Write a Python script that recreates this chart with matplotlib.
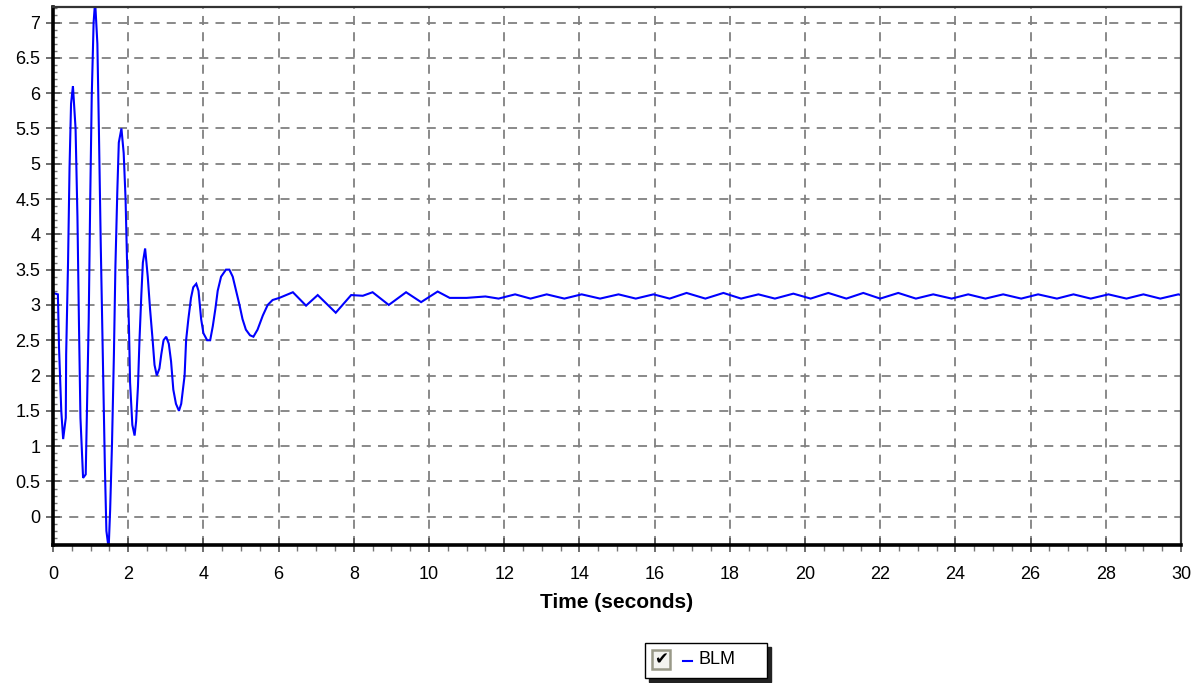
import matplotlib.pyplot as plt
from matplotlib.patches import Rectangle
from matplotlib.lines import Line2D
from matplotlib.ticker import MultipleLocator

plt.rcParams['font.family'] = ['Liberation Sans', 'DejaVu Sans']

# BLM response (time in seconds, value)
t_blm = [0.00, 0.13, 0.16, 0.22, 0.27, 0.34, 0.35, 0.40, 0.44, 0.48, 0.53, 0.60,
         0.65, 0.69, 0.73, 0.80, 0.87, 0.90, 0.95, 0.99, 1.03, 1.08, 1.12, 1.18,
         1.22, 1.27, 1.33, 1.38, 1.42, 1.48, 1.52, 1.57, 1.62, 1.66, 1.71, 1.75,
         1.82, 1.88, 1.93, 1.97, 2.02, 2.05, 2.11, 2.17, 2.21, 2.26, 2.30, 2.35,
         2.39, 2.45, 2.52, 2.58, 2.65, 2.70, 2.76, 2.83, 2.88, 2.94, 3.01, 3.08,
         3.14, 3.20, 3.27, 3.35, 3.41, 3.50, 3.54, 3.60, 3.67, 3.73, 3.81, 3.87,
         3.94, 4.00, 4.10, 4.18, 4.25, 4.32, 4.38, 4.47, 4.60, 4.69, 4.78, 4.87,
         4.96, 5.04, 5.13, 5.24, 5.33, 5.44, 5.58, 5.71, 5.84, 6.02,
         6.38, 6.73, 7.04, 7.52, 7.93, 8.24, 8.50, 8.93, 9.39, 9.79, 10.23, 10.55,
         11.00, 11.50, 11.85, 12.29, 12.70, 13.13, 13.60, 14.06, 14.55, 15.04,
         15.50, 15.97, 16.40, 16.85, 17.35, 17.83, 18.30, 18.76, 19.20, 19.69,
         20.15, 20.62, 21.10, 21.55, 22.00, 22.48, 22.95, 23.41, 23.90, 24.34,
         24.80, 25.27, 25.75, 26.20, 26.70, 27.14, 27.60, 28.07, 28.55, 29.00,
         29.45, 29.93, 30.00]
v_blm = [3.17, 3.15, 2.40, 1.50, 1.10, 1.40, 2.30, 3.60, 4.95, 5.85, 6.10, 5.50,
         4.25, 2.75, 1.40, 0.55, 0.60, 1.40, 2.80, 4.50, 5.95, 7.00, 7.30, 6.70,
         5.50, 3.85, 2.15, 0.70, -0.20, -0.45, 0.10, 1.05, 2.30, 3.55, 4.60, 5.30,
         5.50, 5.15, 4.50, 3.60, 2.70, 1.90, 1.30, 1.15, 1.35, 1.85, 2.50, 3.15,
         3.60, 3.80, 3.40, 2.95, 2.50, 2.15, 2.00, 2.10, 2.30, 2.50, 2.55, 2.45,
         2.20, 1.80, 1.60, 1.50, 1.60, 2.00, 2.50, 2.80, 3.10, 3.25, 3.30, 3.20,
         2.80, 2.60, 2.50, 2.50, 2.70, 2.95, 3.20, 3.40, 3.50, 3.50, 3.40, 3.20,
         3.00, 2.80, 2.65, 2.57, 2.55, 2.65, 2.85, 3.00, 3.07, 3.10,
         3.18, 2.99, 3.14, 2.89, 3.14, 3.13, 3.18, 3.00, 3.18, 3.04, 3.19, 3.10,
         3.10, 3.12, 3.09, 3.15, 3.09, 3.15, 3.09, 3.15, 3.09, 3.15,
         3.09, 3.15, 3.09, 3.17, 3.09, 3.17, 3.09, 3.15, 3.09, 3.16,
         3.09, 3.17, 3.09, 3.17, 3.09, 3.17, 3.09, 3.15, 3.09, 3.15,
         3.09, 3.15, 3.09, 3.15, 3.09, 3.15, 3.09, 3.15, 3.09, 3.15,
         3.09, 3.15, 3.14]

W, H = 1198, 683
fig = plt.figure(figsize=(W / 100, H / 100), dpi=100)
ax = fig.add_axes([53 / W, 1 - 545 / H, (1181 - 53) / W, (545 - 7) / H])

ax.plot(t_blm, v_blm, color='#0000ff', lw=1.5, solid_joinstyle='miter')

ax.set_xlim(0, 30)
ax.set_ylim(-0.4, 7.22)
ax.xaxis.set_major_locator(MultipleLocator(2))
ax.xaxis.set_minor_locator(MultipleLocator(0.5))
ax.yaxis.set_minor_locator(MultipleLocator(0.1))
ax.set_yticks([0, 0.5, 1, 1.5, 2, 2.5, 3, 3.5, 4, 4.5, 5, 5.5, 6, 6.5, 7])
ax.set_yticklabels(['0', '0.5', '1', '1.5', '2', '2.5', '3', '3.5', '4', '4.5',
                    '5', '5.5', '6', '6.5', '7'])

ax.grid(True, which='major', color='#808080', linestyle=(0, (5, 4)), lw=1.3)
ax.tick_params(which='major', direction='inout', length=10, width=1.2,
               colors='#555555', labelcolor='black', labelsize=13)
ax.tick_params(axis='x', which='major', pad=10)
ax.tick_params(axis='y', which='major', pad=4)
ax.tick_params(which='minor', direction='out', length=4, width=1,
               colors='#777777')
ax.tick_params(axis='y', which='minor', direction='in', length=3)

for side in ['left', 'bottom']:
    ax.spines[side].set_linewidth(2.6)
    ax.spines[side].set_color('black')
for side in ['top', 'right']:
    ax.spines[side].set_linewidth(1.6)
    ax.spines[side].set_color('#333333')

ax.set_xlabel('Time (seconds)', fontsize=15, fontweight='bold', labelpad=7)


def fx(x):
    return x / W


def fy(y):
    return 1 - y / H


# legend box with shadow, checkbox and entry
fig.add_artist(Rectangle((fx(649), fy(682)), fx(122), 35 / H, color='#222222',
                         transform=fig.transFigure))
fig.add_artist(Rectangle((fx(645), fy(678)), fx(122), 35 / H, facecolor='white',
                         edgecolor='black', lw=1, transform=fig.transFigure))
fig.add_artist(Rectangle((fx(652), fy(669)), fx(18), 19 / H, facecolor='#f4f4f0',
                         edgecolor='#999988', lw=1.8, transform=fig.transFigure))
fig.text(fx(661), fy(659.5), '\u2714', fontsize=12, ha='center', va='center',
         family='DejaVu Sans')
fig.add_artist(Line2D([fx(683), fx(692)], [fy(661), fy(661)], color='#0000ff',
                      lw=1.5, transform=fig.transFigure))
fig.text(fx(698), fy(660), 'BLM', fontsize=13, ha='left', va='center')

fig.savefig('out.png', dpi=100)
